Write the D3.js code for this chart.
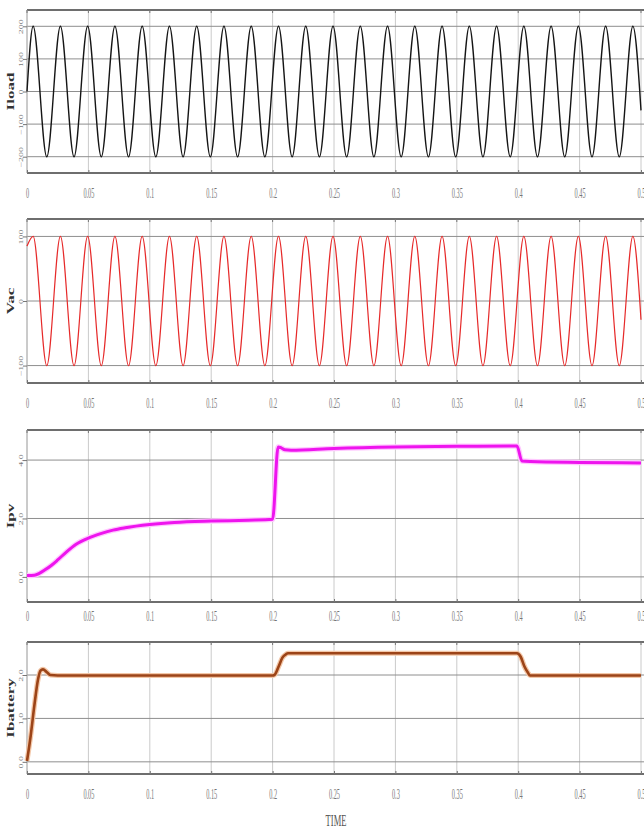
<!DOCTYPE html>
<html>
<head>
<meta charset="utf-8">
<script src="https://cdn.jsdelivr.net/npm/d3@7"></script>
<style>
  body { margin: 0; background: #fff; }
  svg { display: block; }
  text { font-family: 'Liberation Serif', 'DejaVu Serif', serif; fill: #333; }
</style>
</head>
<body>
<script>
const w = 644;
const h = 830;

// time axis
const timeTicks = [0, 0.05, 0.1, 0.15, 0.2, 0.25, 0.3, 0.35, 0.4, 0.45, 0.5];
const timeLabels = ['0', '0.05', '0.1', '0.15', '0.2', '0.25', '0.3', '0.35', '0.4', '0.45', '0.5'];

// peaks and troughs of the two ac waves
const sineT = [0, 0.005, 0.0161, 0.0272, 0.0383, 0.0494, 0.0605, 0.0716, 0.0827, 0.0938,
  0.1049, 0.116, 0.1271, 0.1382, 0.1493, 0.1604, 0.1715, 0.1826, 0.1937, 0.2048,
  0.2159, 0.227, 0.2381, 0.2492, 0.2603, 0.2714, 0.2825, 0.2936, 0.3047, 0.3158,
  0.3269, 0.338, 0.3491, 0.3602, 0.3713, 0.3824, 0.3935, 0.4046, 0.4157, 0.4268,
  0.4379, 0.449, 0.4601, 0.4712, 0.4823, 0.4934, 0.5];

const iloadV = [0, 200, -200, 200, -200, 200, -200, 200, -200, 200,
  -200, 200, -200, 200, -200, 200, -200, 200, -200, 200,
  -200, 200, -200, 200, -200, 200, -200, 200, -200, 200,
  -200, 200, -200, 200, -200, 200, -200, 200, -200, 200,
  -200, 200, -200, 200, -200, 200, -58];

const vacV = [85, 100, -100, 100, -100, 100, -100, 100, -100, 100,
  -100, 100, -100, 100, -100, 100, -100, 100, -100, 100,
  -100, 100, -100, 100, -100, 100, -100, 100, -100, 100,
  -100, 100, -100, 100, -100, 100, -100, 100, -100, 100,
  -100, 100, -100, 100, -100, 100, -29];

// pv current
const ipvT = [0, 0.006, 0.01, 0.015, 0.02, 0.025, 0.032, 0.04, 0.05, 0.06, 0.07, 0.08,
  0.1, 0.12, 0.15, 0.18, 0.2, 0.2045, 0.207, 0.21, 0.215, 0.25, 0.3, 0.35, 0.399,
  0.403, 0.41, 0.45, 0.5];
const ipvV = [0.05, 0.06, 0.12, 0.25, 0.4, 0.58, 0.85, 1.12, 1.33, 1.48, 1.6, 1.68,
  1.79, 1.86, 1.91, 1.94, 1.97, 4.45, 4.42, 4.35, 4.34, 4.4, 4.45, 4.47, 4.48,
  3.97, 3.95, 3.92, 3.9];

// battery current
const ibatT = [0, 0.003, 0.006, 0.009, 0.011, 0.013, 0.016, 0.019, 0.025, 0.2,
  0.2015, 0.205, 0.208, 0.211, 0.2125, 0.399, 0.402, 0.405, 0.408, 0.4096, 0.42, 0.5];
const ibatV = [0.02, 0.6, 1.3, 1.9, 2.1, 2.13, 2.07, 2.0, 1.99, 1.99,
  2.0, 2.2, 2.4, 2.48, 2.5, 2.5, 2.42, 2.2, 2.05, 1.99, 1.99, 1.99];

const panels = [
  { label: 'Iload', t: sineT, v: iloadV, domain: [-250, 250], ticks: [-200, -100, 0, 100, 200],
    top: 10, bottom: 173, labelY: 193, color: '#151515', width: 1.4 },
  { label: 'Vac', t: sineT, v: vacV, domain: [-127, 127], ticks: [-100, 0, 100],
    top: 219, bottom: 383, labelY: 403, color: '#e62a2a', width: 1.2 },
  { label: 'Ipv', t: ipvT, v: ipvV, domain: [-0.86, 5.03], ticks: [0, 2, 4],
    top: 430, bottom: 602, labelY: 616, color: '#ee14ee', width: 3, glow: '#ffc8ff' },
  { label: 'Ibattery', t: ibatT, v: ibatV, domain: [-0.28, 2.76], ticks: [0, 1, 2],
    top: 642, bottom: 774, labelY: 794, color: '#9c4418', width: 2.6, glow: '#f3c7a8' },
];

const left = 27;
const right = 641;

const svg = d3.select('body').append('svg').attr('width', w).attr('height', h);

const x = d3.scaleLinear().domain([0, 0.5]).range([left, right]);

panels.forEach((p) => {
  const y = d3.scaleLinear().domain(p.domain).range([p.bottom, p.top]);
  const g = svg.append('g');

  // vertical grid
  g.selectAll('.vgrid')
    .data(timeTicks)
    .enter()
    .append('line')
    .attr('x1', (d) => x(d))
    .attr('x2', (d) => x(d))
    .attr('y1', p.top)
    .attr('y2', p.bottom)
    .style('stroke', '#cacaca')
    .style('stroke-width', 1);

  // horizontal grid
  g.selectAll('.hgrid')
    .data(p.ticks)
    .enter()
    .append('line')
    .attr('x1', left)
    .attr('x2', w)
    .attr('y1', (d) => y(d))
    .attr('y2', (d) => y(d))
    .style('stroke', '#8e8e8e')
    .style('stroke-width', 1);

  // frame
  g.append('line').attr('x1', left).attr('x2', w).attr('y1', p.top).attr('y2', p.top)
    .style('stroke', '#6e6e6e').style('stroke-width', 2);
  g.append('line').attr('x1', left).attr('x2', w).attr('y1', p.bottom).attr('y2', p.bottom)
    .style('stroke', '#6e6e6e').style('stroke-width', 2);
  g.append('line').attr('x1', left).attr('x2', left).attr('y1', p.top).attr('y2', p.bottom)
    .style('stroke', '#b0b0b0').style('stroke-width', 1);

  // inward ticks on top and bottom
  const xAxis = d3.axisBottom(x).tickValues(timeTicks).tickFormat((d, i) => timeLabels[i]).tickSize(-3);
  const ax = g.append('g').attr('transform', `translate(0,${p.bottom})`).call(xAxis);
  ax.select('.domain').remove();
  ax.selectAll('line').style('stroke', '#777');
  ax.selectAll('text')
    .attr('y', p.labelY - p.bottom)
    .attr('dy', '0.35em')
    .attr('transform', 'scale(0.45,1)')
    .style('font-size', '14px')
    .style('fill', '#777');

  g.selectAll('.ttick')
    .data(timeTicks)
    .enter()
    .append('line')
    .attr('x1', (d) => x(d))
    .attr('x2', (d) => x(d))
    .attr('y1', p.top)
    .attr('y2', p.top + 3)
    .style('stroke', '#777');

  // y axis, rotated labels
  const yAxis = d3.axisLeft(y).tickValues(p.ticks).tickSize(4);
  const ay = g.append('g').attr('transform', `translate(${left},0)`).call(yAxis);
  ay.select('.domain').remove();
  ay.selectAll('line').style('stroke', '#777');
  ay.selectAll('text')
    .attr('x', 0)
    .attr('dy', 0)
    .attr('text-anchor', 'middle')
    .attr('transform', 'translate(-4,0) scale(0.6,1) rotate(-90)')
    .style('font-size', '10px')
    .style('fill', '#777');

  // y label
  svg.append('text')
    .attr('transform', `translate(14,${(p.top + p.bottom) / 2}) scale(0.55,1) rotate(-90)`)
    .attr('text-anchor', 'middle')
    .style('font-size', '17px')
    .style('font-weight', 'bold')
    .style('fill', '#333')
    .text(p.label);

  // signal
  const pts = p.t.map((t, i) => [t, p.v[i]]);
  const line = d3.line()
    .x((d) => x(d[0]))
    .y((d) => y(d[1]))
    .curve(d3.curveMonotoneX);

  if (p.glow) {
    g.append('path')
      .attr('d', line(pts))
      .style('fill', 'none')
      .style('stroke', p.glow)
      .style('stroke-width', p.width + 2.5)
      .style('stroke-linejoin', 'round');
  }
  g.append('path')
    .attr('d', line(pts))
    .style('fill', 'none')
    .style('stroke', p.color)
    .style('stroke-width', p.width)
    .style('stroke-linejoin', 'round');
});

// x label
svg.append('text')
  .attr('transform', 'translate(336,820) scale(0.5,1)')
  .attr('text-anchor', 'middle')
  .attr('dy', '0.35em')
  .style('font-size', '17px')
  .style('fill', '#555')
  .text('TIME');
</script>
</body>
</html>
